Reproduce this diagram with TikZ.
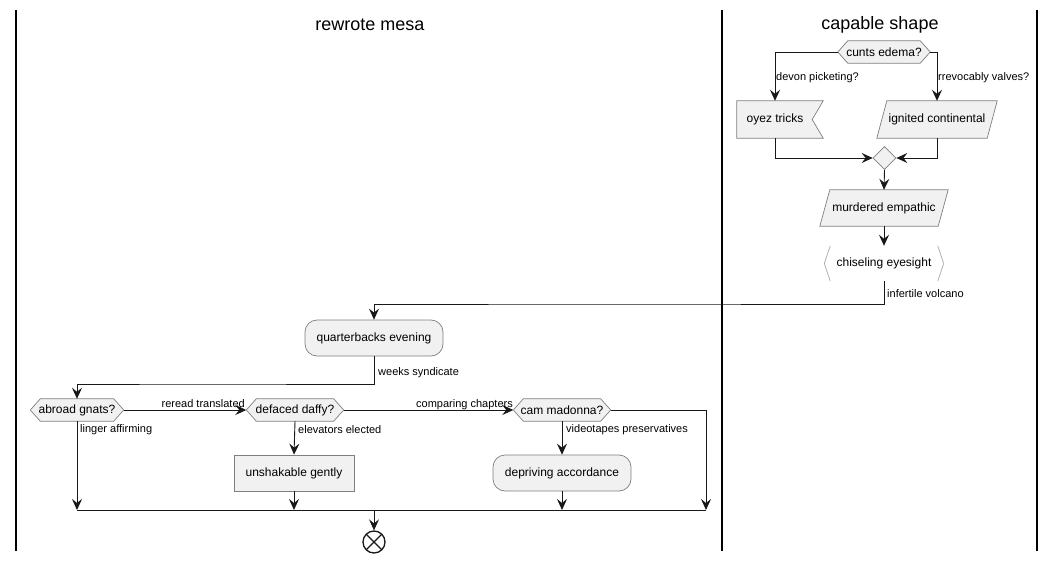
\documentclass[tikz,border=0pt]{standalone}
\usepackage{fontspec}
\setmainfont{Liberation Sans}
\usetikzlibrary{shapes.geometric,arrows.meta,backgrounds,calc}

\definecolor{actfill}{HTML}{F1F1F1}
\definecolor{actline}{HTML}{7F7F7F}
\definecolor{flow}{HTML}{181818}
\definecolor{bracket}{HTML}{A8A8A8}

\tikzset{
  actfont/.style={font=\fontsize{12}{14}\selectfont},
  lbl/.style={font=\fontsize{11}{13}\selectfont, inner sep=0pt, text=black},
  title/.style={font=\fontsize{18}{21}\selectfont, inner sep=0pt},
  plainbox/.style={actfont, rectangle, inner sep=0pt, minimum height=#1},
  roundbox/.style={actfont, rectangle, rounded corners=12, draw=actline, fill=actfill,
    line width=0.7pt, inner sep=0pt, minimum height=36},
  squarebox/.style={actfont, rectangle, draw=actline, fill=actfill,
    line width=0.7pt, inner sep=0pt, minimum height=36},
  merge/.style={diamond, draw=actline, fill=actfill, line width=0.7pt,
    inner sep=0pt, minimum width=23, minimum height=23},
  endnode/.style={circle, draw=flow, line width=1.3pt, inner sep=0pt, minimum size=22},
  shapeline/.style={draw=actline, fill=actfill, line width=0.7pt},
  flowline/.style={draw=flow, line width=0.9pt},
  arr/.style={flowline, -{Stealth[length=11pt,width=10pt,inset=4pt]}},
  lane/.style={draw=black, line width=1.6pt},
}

% outline of a decision hexagon around a plain node
\newcommand\hexoutline[1]{%
  \path[shapeline] (#1.west) -- ([xshift=10]#1.north west) -- ([xshift=-10]#1.north east)
    -- (#1.east) -- ([xshift=-10]#1.south east) -- ([xshift=10]#1.south west) -- cycle;}
% outline of a slanted input/output box
\newcommand\slantoutline[1]{%
  \path[shapeline] ([xshift=5]#1.north west) -- ([xshift=5]#1.north east)
    -- ([xshift=-5]#1.south east) -- ([xshift=-5]#1.south west) -- cycle;}

\begin{document}
\begin{tikzpicture}[x=1pt,y=-1pt]
\useasboundingbox (0,0) rectangle (1054,561);

% swimlanes
\draw[lane] (16,10) -- (16,551);
\draw[lane] (722,10) -- (722,551);
\draw[lane] (1037,10) -- (1037,551);
\node[title] (t1) at (370,25) {rewrote mesa};
\node[title] (t2) at (880,25) {capable shape};

% capable shape lane
\node[plainbox=22, minimum width=92] (cunts) at (884,52) {cunts edema?};
\node[plainbox=37, minimum width=76] (oyez) at (775,119.5) {oyez tricks};
\node[plainbox=37, minimum width=110] (ign) at (937,119.5) {ignited continental};
\node[merge] (mrg) at (884.5,158) {};
\node[plainbox=36, minimum width=118] (murd) at (884,208) {murdered empathic};
\node[plainbox=35, minimum width=119] (chis) at (884,263.5) {chiseling eyesight};

% rewrote mesa lane
\node[roundbox, minimum width=138] (qb) at (374,338) {quarterbacks evening};
\node[plainbox=22, minimum width=93] (abroad) at (77,410) {abroad gnats?};
\node[plainbox=22, minimum width=97] (defaced) at (295,410) {defaced daffy?};
\node[plainbox=22, minimum width=97] (cam) at (562,410) {cam madonna?};
\node[squarebox, minimum width=120] (unsh) at (294,473) {unshakable gently};
\node[roundbox, minimum width=138] (dep) at (562,473) {depriving accordance};
\node[endnode] (stop) at (374,542) {};
\draw[flow, line width=1.3pt] ($(stop.center)!0.95!(stop.45)$) -- ($(stop.center)!0.95!(stop.225)$)
  ($(stop.center)!0.95!(stop.135)$) -- ($(stop.center)!0.95!(stop.315)$);

% shape outlines behind the texts
\begin{scope}[on background layer]
  \hexoutline{cunts}
  \hexoutline{abroad}
  \hexoutline{defaced}
  \hexoutline{cam}
  \slantoutline{ign}
  \slantoutline{murd}
  \path[shapeline] (oyez.north west) -- ([xshift=10]oyez.north east) -- ([xshift=-1]oyez.east)
    -- ([xshift=10]oyez.south east) -- (oyez.south west) -- cycle;
  \draw[bracket, line width=0.7pt] ([xshift=6]chis.north west) -- (chis.west) -- ([xshift=6]chis.south west);
  \draw[bracket, line width=0.7pt] ([xshift=-6]chis.north east) -- (chis.east) -- ([xshift=-6]chis.south east);
\end{scope}

% routing points
\coordinate (jog1) at (600,304);
\coordinate (jog2) at (200,384);
\coordinate (barL) at (77,510);
\coordinate (barR) at (706,510);

% connectors, capable shape
\draw[arr] (cunts.west) -| (oyez.north);
\draw[arr] (cunts.east) -| (ign.north);
\draw[arr] (oyez.south) |- (mrg.west);
\draw[arr] (ign.south) |- (mrg.east);
\draw[arr] (mrg.south) -- (murd.north);
\draw[arr] (murd.south) -- (chis.north);
\draw[arr] (chis.south) |- (jog1) -| (qb.north);
\node[lbl, anchor=west] (l1) at (776,77.5) {devon picketing?};
\node[lbl, anchor=west] (l2) at (938,77.5) {rrevocably valves?};
\node[lbl, anchor=west] (l3) at (887,294) {infertile volcano};

% connectors, rewrote mesa
\draw[arr] (qb.south) |- (jog2) -| (abroad.north);
\draw[arr] (abroad.east) -- (defaced.west);
\draw[arr] (defaced.east) -- (cam.west);
\draw[arr] (cam.east) -| (barR);
\draw[arr] (abroad.south) -- (barL);
\draw[arr] (defaced.south) -- (unsh.north);
\draw[arr] (cam.south) -- (dep.north);
\draw[arr] (unsh.south) -- (unsh.south |- barL);
\draw[arr] (dep.south) -- (dep.south |- barL);
\draw[flowline] (barL) -- (barR);
\draw[arr] (stop.north |- barL) -- (stop.north);
\node[lbl, anchor=west] (l4) at (378,373) {weeks syndicate};
\node[lbl, anchor=base east] (l5) at (245,407.5) {reread translated};
\node[lbl, anchor=base east] (l6) at (513,407.5) {comparing chapters};
\node[lbl, anchor=west] (l7) at (80,430) {linger affirming};
\node[lbl, anchor=west] (l8) at (298,430) {elevators elected};
\node[lbl, anchor=west] (l9) at (566,430) {videotapes preservatives};
\end{tikzpicture}
\end{document}
